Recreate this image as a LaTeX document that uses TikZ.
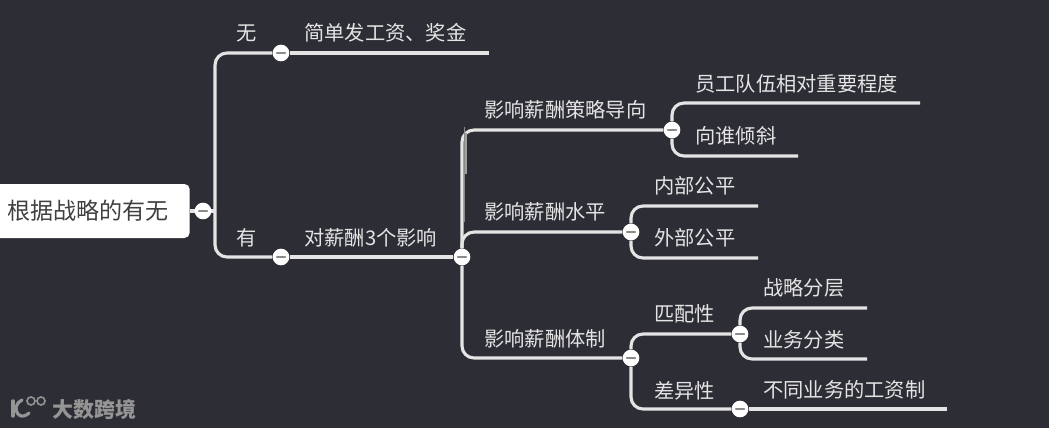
\documentclass[tikz,border=0pt]{standalone}
\usepackage{fontspec}
\usetikzlibrary{backgrounds}
\setmainfont{Noto Sans CJK SC}
\definecolor{dbg}{HTML}{2D2E35}
\definecolor{dline}{HTML}{E4E4E4}
\definecolor{dmark}{HTML}{8A8A8A}
\definecolor{dwm}{HTML}{959595}
\tikzset{
  branch/.style={draw=dline, line width=2.35pt, rounded corners=9pt},
  toggle/.style={circle, fill=white, minimum size=12.5pt, inner sep=0pt,
    path picture={\draw[dmark, line width=1.4pt, line cap=round] ([xshift=-3.2pt]path picture bounding box.center) -- ([xshift=3.2pt]path picture bounding box.center);}},
  lbl/.style={text=dline, font=\fontsize{15.2}{18}\selectfont, inner sep=0pt, anchor=west},
}
\begin{document}
\begin{tikzpicture}[x=0.75pt, y=-0.75pt, line cap=round]
  \useasboundingbox (0,0) rectangle (1049,428);
  % root
  \node[fill=white, rounded corners=4pt, minimum width=155pt, minimum height=40.5pt, inner sep=0pt, anchor=east] (root) at (190,211) {};
  \node[text=black!75, font=\fontsize{17.3}{20}\selectfont, inner sep=0pt, anchor=west] (rootlbl) at (7,211) {根据战略的有无};
  % toggles
  \foreach \name/\x/\y in {tRoot/203/211, tNo/281/53, tYes/281/257, tEff/462/257, tStrat/672/130, tLevel/631/232, tSys/631/358, tMatch/740/334, tDiff/740/409}
    \node[toggle] (\name) at (\x,\y) {};
  % free ends
  \coordinate (eNo) at (489,53);
  \coordinate (eStaff) at (920,103);
  \coordinate (eTilt) at (798,156);
  \coordinate (eIn) at (758,206);
  \coordinate (eOut) at (758,258);
  \coordinate (eLayer) at (867,308);
  \coordinate (eClass) at (867,359);
  \coordinate (eDiff) at (947,409);
  \coordinate (jRoot) at (215,211);
  % connectors
  \begin{scope}[on background layer]
    \fill[dbg] (0,0) rectangle (1049,428);
    \draw[branch] (root) -- (jRoot);
    \draw[branch] (jRoot) |- (tNo);
    \draw[branch] (jRoot) |- (tYes);
    \draw[branch] (tNo) -- (eNo);
    \draw[branch] (tYes) -- (tEff);
    \draw[branch] (tEff) |- (tStrat);
    \draw[branch] (tEff) |- (tLevel);
    \draw[branch] (tEff) |- (tSys);
    \draw[branch] (tStrat) |- (eStaff);
    \draw[branch] (tStrat) |- (eTilt);
    \draw[branch] (tLevel) |- (eIn);
    \draw[branch] (tLevel) |- (eOut);
    \draw[branch] (tSys) |- (tMatch);
    \draw[branch] (tSys) |- (tDiff);
    \draw[branch] (tMatch) |- (eLayer);
    \draw[branch] (tMatch) |- (eClass);
    \draw[branch] (tDiff) -- (eDiff);
    % scratchy part of the trunk
    \draw[dmark!80!white, line width=2pt] (465.5,133) -- (465.5,174);
    \draw[dmark, line width=1pt] (464.5,127) -- (464.5,222);
  \end{scope}
  % labels
  \foreach \name/\x/\y/\t in {lNo/236/33/无, lPay/304/33/简单发工资、奖金, lYes/236/238/有, lEff/304/238/对薪酬3个影响,
    lStrat/484/110/影响薪酬策略导向, lStaff/695/84/员工队伍相对重要程度, lTilt/695/136/向谁倾斜,
    lLevel/484/212/影响薪酬水平, lIn/654/186/内部公平, lOut/654/238/外部公平,
    lSys/484/339/影响薪酬体制, lMatch/654/314/匹配性, lLayer/763/288/战略分层, lClass/763/340/业务分类,
    lDiff/654/391/差异性, lKinds/763/390/不同业务的工资制}
    \node[lbl] (\name) at (\x,\y) {\t};
  % watermark
  \node[text=dwm, font=\fontsize{15.7}{18}\selectfont\bfseries, inner sep=0pt, anchor=west] (wm) at (52,410) {大数跨境};
  \draw[dwm, line width=2.6pt] (13,401) -- (13,416);
  \draw[dwm, line width=2.4pt] (22,400) .. controls (15,404) and (14,410) .. (19,415) .. controls (22,417) and (26,416) .. (29,413);
  \draw[dwm, line width=1.2pt] (31,401) circle (4) (41,401) circle (4);
\end{tikzpicture}
\end{document}
